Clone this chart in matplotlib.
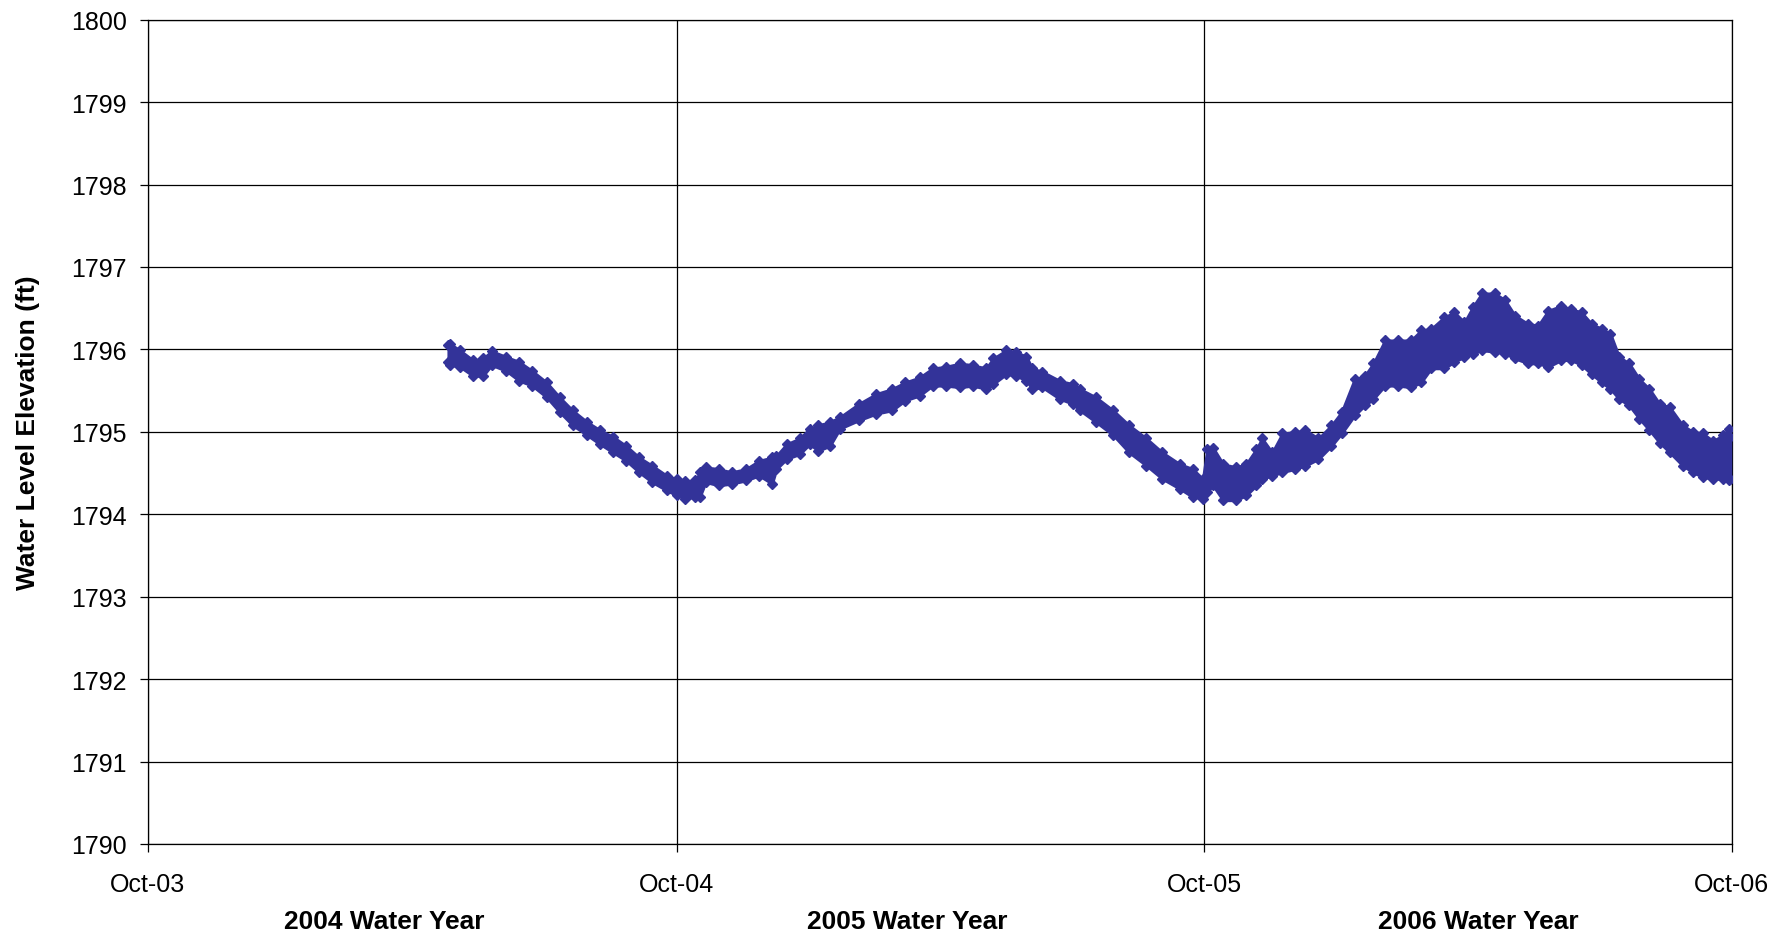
import pandas as pd
import matplotlib
matplotlib.use("Agg")
import matplotlib.pyplot as plt
import matplotlib.dates as mdates

plt.rcParams['font.family'] = ['Liberation Sans', 'DejaVu Sans']

dates = [
    "2004-04-26", "2004-04-27", "2004-05-04", "2004-05-13", "2004-05-20", "2004-05-26",
    "2004-06-05", "2004-06-14", "2004-06-23", "2004-07-03", "2004-07-12", "2004-07-21",
    "2004-07-31", "2004-08-09", "2004-08-18", "2004-08-27", "2004-09-05", "2004-09-14",
    "2004-09-24", "2004-10-01", "2004-10-07", "2004-10-14", "2004-10-17", "2004-10-21",
    "2004-10-30", "2004-11-08", "2004-11-18", "2004-11-27", "2004-12-06", "2004-12-09",
    "2004-12-16", "2004-12-25", "2005-01-01", "2005-01-07", "2005-01-15", "2005-01-22",
    "2005-02-04", "2005-02-16", "2005-02-27", "2005-03-08", "2005-03-18", "2005-03-27",
    "2005-04-05", "2005-04-15", "2005-04-24", "2005-05-03", "2005-05-08", "2005-05-17",
    "2005-05-24", "2005-05-31", "2005-06-04", "2005-06-11", "2005-06-23", "2005-07-02",
    "2005-07-07", "2005-07-18", "2005-07-30", "2005-08-10", "2005-08-22", "2005-09-02",
    "2005-09-14", "2005-09-23", "2005-09-30", "2005-10-03", "2005-10-07", "2005-10-14",
    "2005-10-23", "2005-10-30", "2005-11-06", "2005-11-10", "2005-11-17", "2005-11-24",
    "2005-12-03", "2005-12-10", "2005-12-19", "2005-12-28", "2006-01-04", "2006-01-13",
    "2006-01-20", "2006-01-26", "2006-02-03", "2006-02-12", "2006-02-21", "2006-02-28",
    "2006-03-07", "2006-03-16", "2006-03-23", "2006-03-30", "2006-04-05", "2006-04-11",
    "2006-04-20", "2006-04-27", "2006-05-04", "2006-05-13", "2006-05-20", "2006-05-27",
    "2006-06-05", "2006-06-12", "2006-06-19", "2006-06-26", "2006-07-03", "2006-07-09",
    "2006-07-15", "2006-07-22", "2006-07-29", "2006-08-05", "2006-08-12", "2006-08-19",
    "2006-08-28", "2006-09-04", "2006-09-11", "2006-09-18", "2006-09-25", "2006-09-29",
    "2006-09-30",
]
level_high = [
    1796.05, 1796.07, 1795.99, 1795.87, 1795.89, 1795.98,
    1795.91, 1795.85, 1795.74, 1795.60, 1795.42, 1795.26,
    1795.12, 1795.02, 1794.94, 1794.83, 1794.69, 1794.59,
    1794.47, 1794.43, 1794.40, 1794.41, 1794.51, 1794.57,
    1794.55, 1794.51, 1794.55, 1794.65, 1794.69, 1794.71,
    1794.85, 1794.92, 1795.04, 1795.08, 1795.12, 1795.18,
    1795.34, 1795.46, 1795.52, 1795.60, 1795.66, 1795.77,
    1795.79, 1795.83, 1795.81, 1795.77, 1795.89, 1795.99,
    1795.97, 1795.91, 1795.77, 1795.73, 1795.62, 1795.58,
    1795.52, 1795.42, 1795.26, 1795.08, 1794.92, 1794.75,
    1794.61, 1794.55, 1794.43, 1794.79, 1794.81, 1794.61,
    1794.57, 1794.61, 1794.79, 1794.92, 1794.75, 1794.98,
    1795.00, 1795.02, 1794.92, 1795.08, 1795.24, 1795.64,
    1795.68, 1795.83, 1796.11, 1796.11, 1796.11, 1796.23,
    1796.25, 1796.39, 1796.45, 1796.33, 1796.52, 1796.68,
    1796.68, 1796.60, 1796.41, 1796.31, 1796.29, 1796.47,
    1796.53, 1796.49, 1796.45, 1796.31, 1796.25, 1796.19,
    1795.91, 1795.83, 1795.64, 1795.52, 1795.34, 1795.30,
    1795.08, 1795.00, 1794.98, 1794.89, 1794.96, 1795.04,
    1794.94,
]
level_low = [
    1795.85, 1795.81, 1795.79, 1795.68, 1795.68, 1795.81,
    1795.74, 1795.62, 1795.56, 1795.42, 1795.24, 1795.08,
    1794.96, 1794.85, 1794.75, 1794.65, 1794.51, 1794.39,
    1794.29, 1794.23, 1794.19, 1794.21, 1794.21, 1794.39,
    1794.35, 1794.37, 1794.41, 1794.47, 1794.37, 1794.55,
    1794.67, 1794.73, 1794.85, 1794.77, 1794.83, 1795.04,
    1795.14, 1795.22, 1795.26, 1795.38, 1795.44, 1795.56,
    1795.56, 1795.54, 1795.56, 1795.52, 1795.58, 1795.70,
    1795.68, 1795.62, 1795.52, 1795.54, 1795.40, 1795.34,
    1795.26, 1795.12, 1794.96, 1794.75, 1794.59, 1794.43,
    1794.31, 1794.21, 1794.19, 1794.27, 1794.35, 1794.17,
    1794.17, 1794.23, 1794.35, 1794.43, 1794.47, 1794.51,
    1794.55, 1794.59, 1794.67, 1794.83, 1794.98, 1795.20,
    1795.32, 1795.40, 1795.56, 1795.56, 1795.54, 1795.60,
    1795.77, 1795.77, 1795.85, 1795.91, 1795.95, 1795.99,
    1795.97, 1795.95, 1795.89, 1795.83, 1795.83, 1795.79,
    1795.87, 1795.87, 1795.81, 1795.70, 1795.60, 1795.52,
    1795.40, 1795.32, 1795.16, 1795.02, 1794.87, 1794.75,
    1794.59, 1794.51, 1794.45, 1794.43, 1794.43, 1794.41,
    1794.43,
]
year_ticks = ["2003-10-01", "2004-10-01", "2005-10-01", "2006-10-01"]
water_years = ["2004 Water Year", "2005 Water Year", "2006 Water Year"]

color = "#333399"
t = pd.to_datetime(dates)

fig = plt.figure(figsize=(17.9, 9.37), dpi=100)
ax = fig.add_axes([0.0825, 0.0982, 0.885, 0.8797])

ax.fill_between(t, level_low, level_high, color=color, linewidth=2,
                edgecolor=color, joinstyle="round", zorder=3)
# diamond markers along the edges give the dotted look of the readings
ax.plot(t, level_high, "D", color=color, ms=5, zorder=3)
ax.plot(t, level_low, "D", color=color, ms=5, zorder=3)

ax.set_xlim(pd.Timestamp(year_ticks[0]), pd.Timestamp(year_ticks[-1]))
ax.set_ylim(1790, 1800)
ax.set_yticks(range(1790, 1801))
ax.set_xticks(pd.to_datetime(year_ticks))
ax.xaxis.set_major_formatter(mdates.DateFormatter("%b-%y"))

ax.grid(True, color="black", linewidth=0.9)
ax.set_axisbelow(True)
for s in ax.spines.values():
    s.set_color("black")
    s.set_linewidth(0.9)
ax.tick_params(axis="both", direction="out", length=6, width=0.9,
               labelsize=18, colors="black")
ax.tick_params(axis="y", pad=9)
ax.tick_params(axis="x", pad=14)

ax.set_ylabel("Water Level Elevation (ft)", fontsize=19, fontweight="bold",
              labelpad=22)

for xpos, label in zip([0.2145, 0.507, 0.826], water_years):
    fig.text(xpos, 0.016, label, ha="center", va="center",
             fontsize=19, fontweight="bold")

fig.savefig("out.png", dpi=100, facecolor="white")
